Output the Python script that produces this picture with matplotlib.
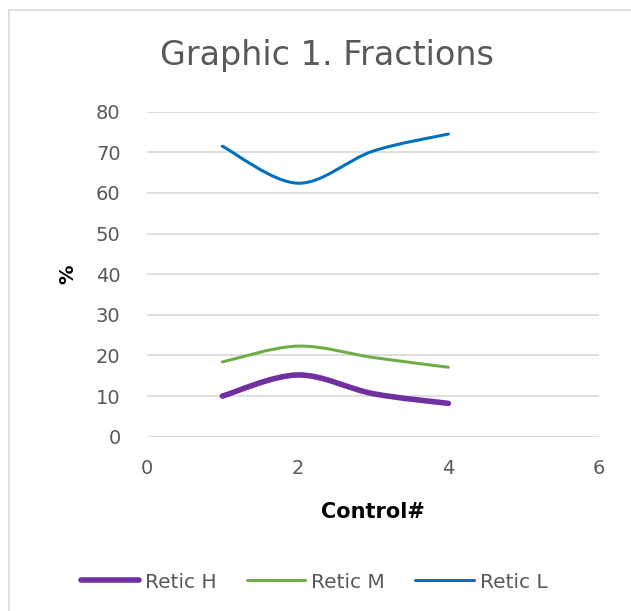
import matplotlib
matplotlib.use("Agg")
import matplotlib.pyplot as plt
from matplotlib.path import Path
from matplotlib.patches import PathPatch, Rectangle
from matplotlib.lines import Line2D

# data
controls = [1, 2, 3, 4]
retic_h = [10.0, 15.2, 10.6, 8.2]
retic_m = [18.4, 22.3, 19.5, 17.1]
retic_l = [71.5, 62.4, 70.3, 74.5]

series_names = ["Retic H", "Retic M", "Retic L"]
series_colors = ["#7030A0", "#70AD47", "#0070C0"]
series_widths = [4.0, 2.2, 2.2]

TEXT_GRAY = "#595959"
GRID_GRAY = "#D9D9D9"


def smooth_path(xs, ys):
    """Excel-like smoothed line: cubic Bezier segments through the points"""
    pts = list(zip(xs, ys))
    n = len(pts)
    verts = [pts[0]]
    codes = [Path.MOVETO]
    for i in range(n - 1):
        p0 = pts[i - 1] if i > 0 else pts[i]
        p1 = pts[i]
        p2 = pts[i + 1]
        p3 = pts[i + 2] if i + 2 < n else pts[i + 1]
        c1 = (p1[0] + (p2[0] - p0[0]) / 6, p1[1] + (p2[1] - p0[1]) / 6)
        c2 = (p2[0] - (p3[0] - p1[0]) / 6, p2[1] - (p3[1] - p1[1]) / 6)
        verts += [c1, c2, p2]
        codes += [Path.CURVE4] * 3
    return Path(verts, codes)


fig = plt.figure(figsize=(6.31, 6.11), dpi=100)
W, H = 631, 611

# chart-area frame (runs off the right/bottom edge like the reference)
fig.patches.append(Rectangle((9 / W, -0.05), 1.1, 1.05 - 10 / H,
                             transform=fig.transFigure, fill=False,
                             edgecolor=GRID_GRAY, linewidth=1.2))

ax = fig.add_axes([147 / W, 1 - 436.7 / H, (599 - 147) / W, (436.7 - 111.7) / H])
ax.set_xlim(0, 6)
ax.set_ylim(0, 80)
ax.set_xticks([0, 2, 4, 6])
ax.set_yticks(range(0, 81, 10))
ax.grid(axis="y", color=GRID_GRAY, linewidth=1.2)
ax.set_axisbelow(True)
for s in ax.spines.values():
    s.set_visible(False)
ax.tick_params(length=0, colors=TEXT_GRAY, labelsize=14)
ax.tick_params(axis="y", pad=19)
ax.tick_params(axis="x", pad=16)

handles = []
for ys, name, col, lw in zip([retic_h, retic_m, retic_l], series_names,
                             series_colors, series_widths):
    ax.add_patch(PathPatch(smooth_path(controls, ys), fill=False,
                           edgecolor=col, linewidth=lw, capstyle="round"))
    handles.append(Line2D([], [], color=col, linewidth=lw,
                          solid_capstyle="round", label=name))

ax.set_xlabel("Control#", fontsize=15, fontweight="bold", color="black", labelpad=17)
ax.set_ylabel("%", fontsize=14, fontweight="bold", color="black", labelpad=13)

fig.text(327 / W, 1 - 55 / H, "Graphic 1. Fractions", fontsize=24,
         color=TEXT_GRAY, ha="center", va="center")

fig.legend(handles=handles, loc="center", bbox_to_anchor=(314 / W, 1 - 582 / H),
           ncol=3, frameon=False, fontsize=14.5, handlelength=2.9,
           handletextpad=0.3, columnspacing=1.5, labelcolor=TEXT_GRAY)

fig.savefig("out.png", dpi=100)
